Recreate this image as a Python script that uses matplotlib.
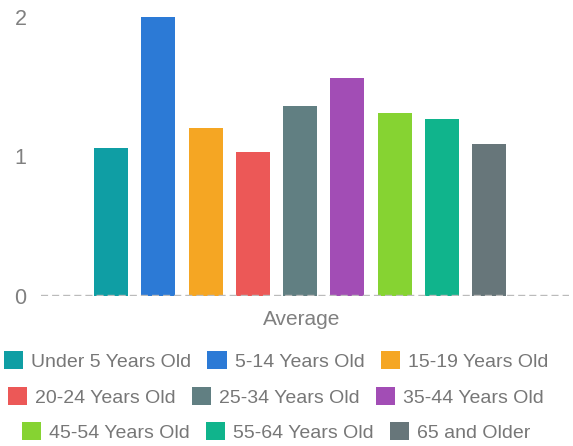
import matplotlib
matplotlib.use("Agg")
from matplotlib import pyplot as plt
from matplotlib.patches import Patch

plt.rcParams['font.family'] = ['Liberation Sans', 'DejaVu Sans']

# data
category = "Average"
groups = ["Under 5 Years Old", "5-14 Years Old", "15-19 Years Old",
          "20-24 Years Old", "25-34 Years Old", "35-44 Years Old",
          "45-54 Years Old", "55-64 Years Old", "65 and Older"]
values = [1.06, 2.00, 1.20, 1.03, 1.36, 1.56, 1.31, 1.27, 1.09]
colors = ["#0f9ea4", "#2c7ad6", "#f5a623", "#ec5857", "#617f82",
          "#a24db5", "#86d332", "#10b48c", "#67767a"]
yticks = [0, 1, 2]

TEXT = "#808080"

fig = plt.figure(figsize=(5.73, 4.46), dpi=100)
ax = fig.add_axes([41/573, 1 - 296/446, 528/573, (296 - 16.7)/446])

n = len(values)
step = 47.25 / 528
width = 34 / 528
for i, (v, c) in enumerate(zip(values, colors)):
    ax.bar((i - (n - 1) / 2) * step, v, width=width, color=c, zorder=2)

ax.axhline(0, color="#bbbbbb", lw=1.7, linestyle=(0, (3.0, 1.7)), zorder=3)

ax.set_xlim(-259/528, 269/528)
ax.set_ylim(0, 2)
ax.set_yticks(yticks)
ax.set_yticklabels([str(t) for t in yticks])
ax.set_xticks([0.004])
ax.set_xticklabels([category])
ax.tick_params(axis="y", length=0, pad=10.5, labelsize=15.5, labelcolor=TEXT)
ax.tick_params(axis="x", length=0, pad=10, labelsize=15, labelcolor=TEXT)
for s in ax.spines.values():
    s.set_visible(False)

# legend, three centred rows
handles = [Patch(facecolor=c, edgecolor="none") for c in colors]
rows_y = [361, 397, 432]
for r, y in enumerate(rows_y):
    hs = handles[r*3:(r+1)*3]
    ls = groups[r*3:(r+1)*3]
    leg = fig.legend(hs, ls, loc="center", bbox_to_anchor=(276/573, 1 - y/446),
                     ncol=3, frameon=False, fontsize=14, handlelength=0.98,
                     handleheight=0.98, handletextpad=0.41, columnspacing=0.85,
                     borderpad=0, borderaxespad=0)
    for t in leg.get_texts():
        t.set_color("#777777")

fig.savefig("out.png", dpi=100)
